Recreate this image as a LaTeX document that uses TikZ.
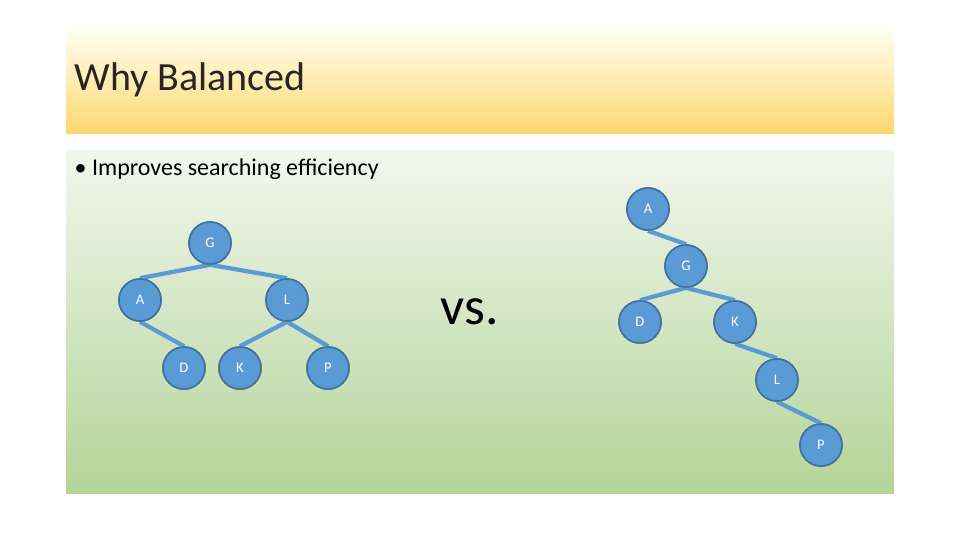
\documentclass[tikz,border=0pt]{standalone}
\usepackage{fontspec}
\setmainfont{Carlito}
\begin{document}
\begin{tikzpicture}[x=0.75pt,y=-0.75pt,
  tn/.style={circle,minimum size=31.5pt,inner sep=0pt,fill=nodeblue,draw=nodeedge,line width=1.2pt,text=white,font=\fontsize{11}{12}\selectfont},
  tedge/.style={draw=nodeblue,line width=3.2pt}]
\definecolor{nodeblue}{HTML}{5B9BD5}
\definecolor{nodeedge}{HTML}{41719C}
\useasboundingbox (0,0) rectangle (960,540);
\fill[white] (0,0) rectangle (960,540);
\shade[top color=white!95!yellow, bottom color={rgb,255:red,252;green,216;blue,112}] (66,28) rectangle (894,133);
\shade[top color={rgb,255:red,242;green,247;blue,238}, bottom color={rgb,255:red,180;green,212;blue,152}] (66,150) rectangle (894,493);
\node[anchor=west,font=\fontsize{30}{34}\selectfont,text={rgb,255:red,38;green,38;blue,38}] (title) at (70,80) {Why Balanced};
\node[anchor=west,font=\fontsize{18}{20}\selectfont] (bul) at (70,169) {\textbullet\ Improves searching efficiency};
\node[font=\fontsize{40}{44}\selectfont] (vs) at (470,312) {vs.};
% left tree
\node[tn] (lG) at (210,243) {G};
\node[tn] (lA) at (140,300) {A};
\node[tn] (lL) at (287,300) {L};
\node[tn] (lD) at (184,368) {D};
\node[tn] (lK) at (240,368) {K};
\node[tn] (lP) at (328,368) {P};
% right tree
\node[tn] (rA) at (648,209) {A};
\node[tn] (rG) at (686,266) {G};
\node[tn] (rD) at (640,322) {D};
\node[tn] (rK) at (735,322) {K};
\node[tn] (rL) at (777,380) {L};
\node[tn] (rP) at (821,445) {P};
\begin{scope}[on background layer/.style={}]
\end{scope}
\draw[tedge] (lG.south) -- (lA.north);
\draw[tedge] (lG.south) -- (lL.north);
\draw[tedge] (lA.south) -- (lD.north);
\draw[tedge] (lL.south) -- (lK.north);
\draw[tedge] (lL.south) -- (lP.north);
\draw[tedge] (rA.south) -- (rG.north);
\draw[tedge] (rG.south) -- (rD.north);
\draw[tedge] (rG.south) -- (rK.north);
\draw[tedge] (rK.south) -- (rL.north);
\draw[tedge] (rL.south) -- (rP.north);
% redraw nodes on top
\foreach \n/\t in {lG/G,lA/A,lL/L,lD/D,lK/K,lP/P,rA/A,rG/G,rD/D,rK/K,rL/L,rP/P}
  \node[tn] at (\n) {\t};
\end{tikzpicture}
\end{document}
